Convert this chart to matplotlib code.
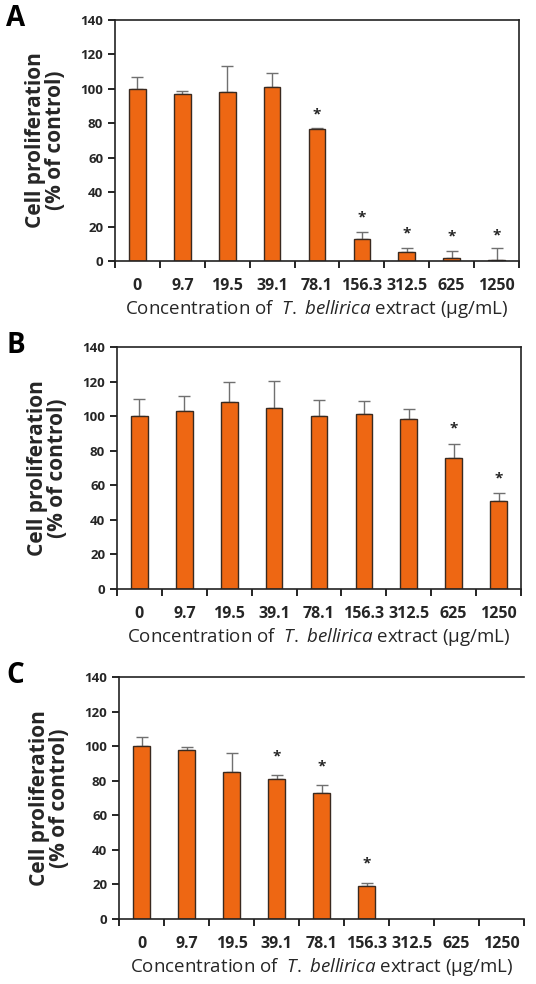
import matplotlib
matplotlib.use("Agg")
import matplotlib.pyplot as plt
import numpy as np

plt.rcParams['font.family'] = ['Open Sans', 'DejaVu Sans']
plt.rcParams['mathtext.fontset'] = 'custom'
plt.rcParams['mathtext.rm'] = 'Open Sans'
plt.rcParams['mathtext.it'] = 'Open Sans:italic'

concentrations = ["0", "9.7", "19.5", "39.1", "78.1", "156.3", "312.5", "625", "1250"]

# panel A
values_a = [100, 97, 98, 101, 76.5, 13, 5, 1.8, 0.8]
errors_a = [7, 1.5, 15, 8, 0.5, 4, 2.5, 4, 6.5]
stars_a = [None, None, None, None, 85, 25, 16, 14, 15]

# panel B
values_b = [100, 103, 108, 105, 100, 101.5, 98.5, 75.5, 51]
errors_b = [10, 8.5, 12, 15.5, 9.5, 7, 5.5, 8.5, 4.5]
stars_b = [None, None, None, None, None, None, None, 93, 64]

# panel C
values_c = [100, 98, 85, 81, 73, 19, 0, 0, 0]
errors_c = [5.5, 1.5, 11, 2.5, 4.5, 2, 0, 0, 0]
stars_c = [None, None, None, 94, 88, 32, None, None, None]

bar_color = '#EE6713'
text_color = '#262626'

fig = plt.figure(figsize=(5.36, 9.84), dpi=100)

panels = [
    ("A", values_a, errors_a, stars_a, [115/536, 1 - 261/984, 404/536, 241/984], True),
    ("B", values_b, errors_b, stars_b, [117/536, 1 - 589/984, 404/536, 242/984], True),
    ("C", values_c, errors_c, stars_c, [119/536, 1 - 919/984, 405/536, 242/984], False),
]

for letter, vals, errs, stars, rect, right_spine in panels:
    ax = fig.add_axes(rect)
    x = np.arange(len(vals))
    shown = [i for i in x if vals[i] > 0]
    ax.bar([x[i] for i in shown], [vals[i] for i in shown], width=0.37,
           color=bar_color, edgecolor='#3a2a20', linewidth=1.0, zorder=2)
    ax.errorbar([x[i] for i in shown], [vals[i] for i in shown],
                yerr=[[0] * len(shown), [errs[i] for i in shown]],
                fmt='none', ecolor='#707070', elinewidth=1.0, capsize=4, capthick=1.0, zorder=1)
    for i, s in enumerate(stars):
        if s is not None:
            ax.text(x[i], s, '*', ha='center', va='center', fontsize=11,
                    fontweight='bold', color=text_color)
    ax.set_xlim(-0.5, 8.5)
    ax.set_ylim(0, 140)
    ax.set_yticks(range(0, 141, 20))
    ax.set_xticks(np.arange(-0.5, 9, 1))
    ax.set_xticklabels([])
    ax.set_xticks(x, minor=True)
    ax.set_xticklabels(concentrations, minor=True, fontsize=11.5, color=text_color)
    ax.tick_params(axis='x', which='minor', length=0, pad=12)
    ax.tick_params(axis='x', which='major', length=5, width=1.2, direction='out')
    ax.tick_params(axis='y', length=5, width=1.2, direction='out', labelsize=9.5,
                   labelcolor=text_color)
    for lbl in ax.get_yticklabels():
        lbl.set_fontweight('bold')
    for lbl in ax.get_xticklabels(minor=True):
        lbl.set_fontweight('bold')
    for sp in ax.spines.values():
        sp.set_linewidth(1.2)
        sp.set_color('#222222')
    if not right_spine:
        ax.spines['right'].set_visible(False)
    ax.set_xlabel(r'Concentration of  $\it{T.}$ $\it{bellirica}$ extract (µg/mL)',
                  fontsize=13.5, color=text_color, labelpad=3)
    ax.set_ylabel('Cell proliferation\n(% of control)', fontsize=15,
                  fontweight='bold', color=text_color, labelpad=10, linespacing=0.95)
    fig.text(0.012, rect[1] + rect[3] + 0.002, letter, fontsize=20, fontweight='bold',
             ha='left', va='center', color='black')

fig.savefig('out.png', dpi=100)
